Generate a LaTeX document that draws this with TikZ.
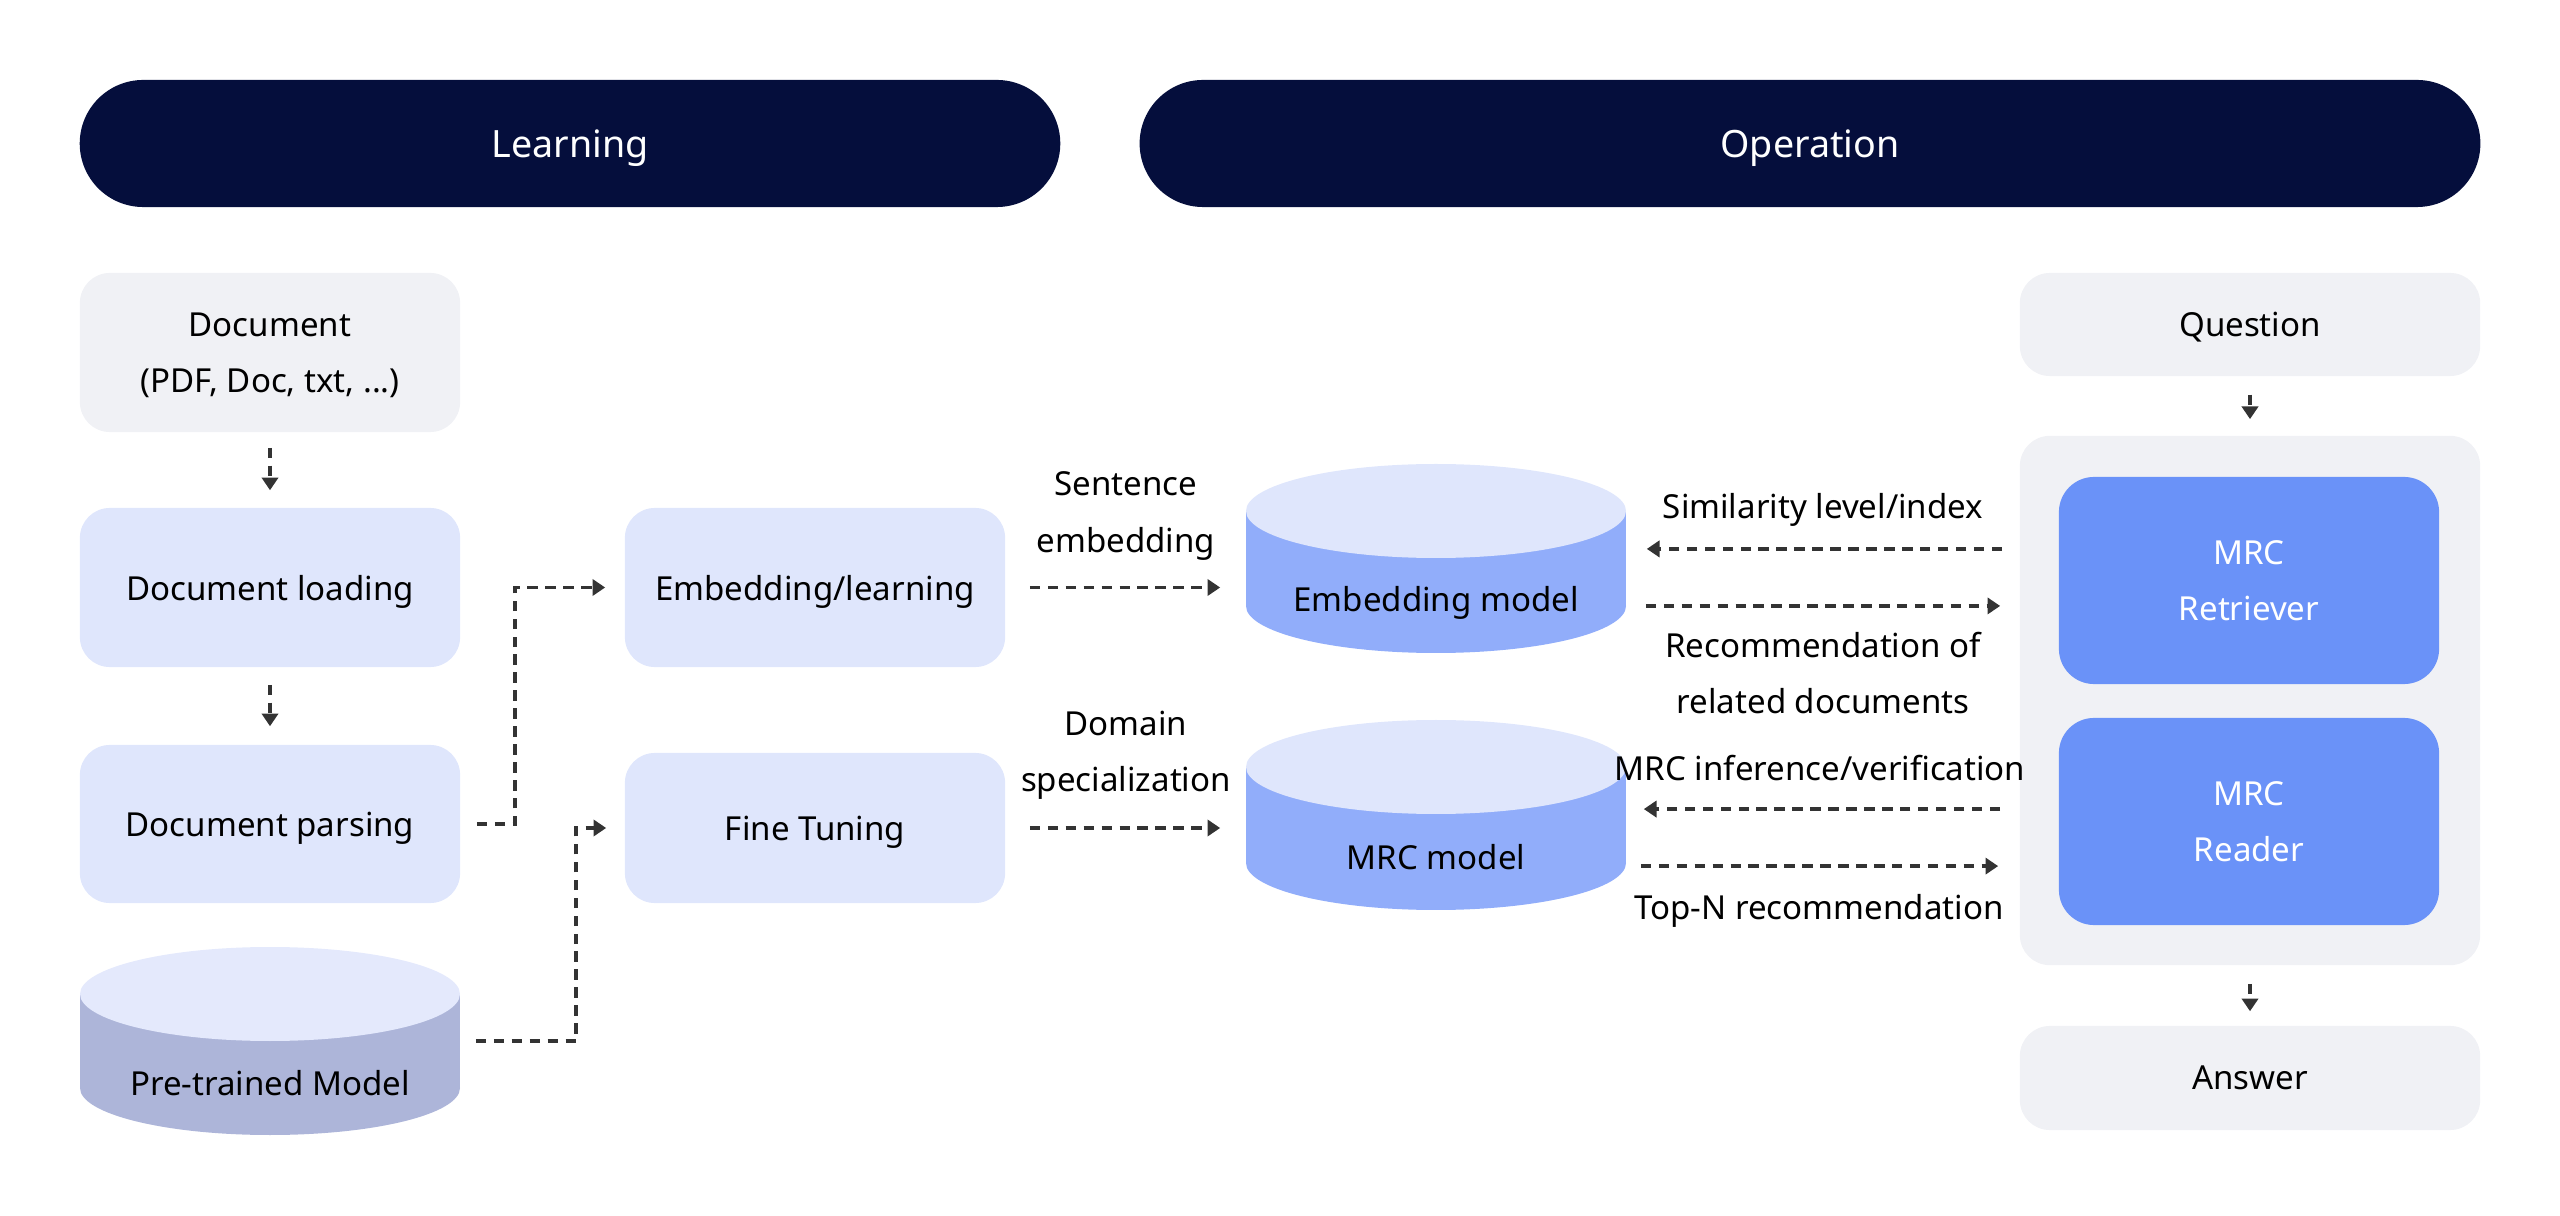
\documentclass[tikz,border=0pt]{standalone}
\usepackage{fontspec}
\setmainfont{Noto Sans}
\usetikzlibrary{arrows.meta,shapes.misc,calc}
\definecolor{navy}{HTML}{050E3C}
\definecolor{graybox}{HTML}{F0F1F5}
\definecolor{lblue}{HTML}{DFE6FC}
\definecolor{mblue}{HTML}{6A92F8}
\definecolor{cylside}{HTML}{91ADFA}
\definecolor{cyltop}{HTML}{DFE6FC}
\definecolor{preside}{HTML}{ADB5D9}
\definecolor{pretop}{HTML}{E4E9FC}
\definecolor{arrcol}{HTML}{333333}
\newcommand{\fs}{\fontsize{9.4pt}{16pt}\selectfont}
\tikzset{
  box/.style={rounded corners=8.5pt, inner sep=0pt, align=center, font=\fs, minimum width=3.8cm, text depth=0pt},
  graybx/.style={box, fill=graybox},
  bluebx/.style={box, fill=lblue},
  mrcbx/.style={box, fill=mblue, text=white, rounded corners=10pt},
  header/.style={rounded rectangle, fill=navy, text=white, inner sep=0pt, minimum height=1.27cm, text depth=0pt, font=\fontsize{10.7pt}{13pt}\selectfont},
  frame/.style={inner sep=0pt, minimum width=3.8cm},
  lbl/.style={align=center, font=\fs, inner sep=0pt},
  arr/.style={draw=arrcol, line width=1.1pt, dash pattern=on 3pt off 2.1pt, -{Triangle[length=3.6pt,width=4.6pt]}},
}
\begin{document}
\begin{tikzpicture}[x=0.01cm,y=-0.01cm]
\useasboundingbox (0,0) rectangle (2560,1216);

% headers
\node[header, minimum width=9.8cm] (learn) at (570,143.5) {Learning};
\node[header, minimum width=13.4cm] (oper) at (1810,143.5) {Operation};

% left column
\node[graybx, minimum height=1.59cm] (doc) at (270,352.5) {Document\\(PDF, Doc, txt, ...)};
\node[bluebx, minimum height=1.59cm] (load) at (270,587.5) {Document loading};
\node[bluebx, minimum height=1.58cm] (pars) at (270,824) {Document parsing};

% pre-trained cylinder
\fill[preside] (80,994) rectangle (460,1088);
\fill[preside] (270,1088) ellipse (190 and 47);
\fill[pretop] (270,994) ellipse (190 and 47);
\node[frame, minimum height=1.88cm] (pre) at (270,1041) {};
\node[lbl] (pret) at (270,1083) {Pre-trained Model};

% middle boxes
\node[bluebx, minimum height=1.59cm] (embl) at (815,587.5) {Embedding/learning};
\node[bluebx, minimum height=1.50cm] (fine) at (815,828) {Fine Tuning};

% embedding model cylinder
\fill[cylside] (1246,511) rectangle (1626,606);
\fill[cylside] (1436,606) ellipse (190 and 47);
\fill[cyltop] (1436,511) ellipse (190 and 47);
\node[frame, minimum height=1.89cm] (embm) at (1436,558.5) {};
\node[lbl] (embmt) at (1436,603) {Embedding model};

% MRC model cylinder
\fill[cylside] (1246,767) rectangle (1626,863);
\fill[cylside] (1436,863) ellipse (190 and 47);
\fill[cyltop] (1436,767) ellipse (190 and 47);
\node[frame, minimum height=1.90cm] (mrcm) at (1436,815) {};
\node[lbl] (mrcmt) at (1436,857) {MRC model};

% right column
\node[graybx, minimum width=4.6cm, minimum height=1.03cm] (ques) at (2250,324.5) {Question};
\node[graybx, minimum width=4.6cm, minimum height=5.29cm] (cont) at (2250,700.5) {};
\node[mrcbx, minimum height=2.07cm] (retr) at (2249,580.5) {MRC\\Retriever};
\node[mrcbx, minimum height=2.07cm] (read) at (2249,821.5) {MRC\\Reader};
\node[graybx, minimum width=4.6cm, minimum height=1.04cm] (ans) at (2250,1078) {Answer};

% labels
\node[lbl] (l1) at (1126,516) {Sentence\\embedding};
\node[lbl] (l2) at (1126,755) {Domain\\specialization};
\node[lbl] (l3) at (1823,510) {Similarity level/index};
\node[lbl] (l4) at (1823,673) {Recommendation of\\related documents};
\node[lbl] (l5) at (1820,768) {MRC inference/verification};
\node[lbl] (l6) at (1819,911) {Top-N recommendation};

% connectors
\draw[arr, shorten <=0.15cm, shorten >=0.17cm] (doc.south) -- (load.north);
\draw[arr, shorten <=0.17cm, shorten >=0.18cm] (load.south) -- (pars.north);
\draw[arr, shorten <=0.16cm, shorten >=0.19cm] (pars.east) -| ([xshift=-1.09cm]embl.west) -- (embl.west);
\draw[arr, shorten <=0.15cm, shorten >=0.18cm] (pre.east) -| ([xshift=-0.48cm]fine.west) -- (fine.west);
\draw[arr, shorten <=0.24cm, shorten >=0.25cm] (embl.east) -- (embl.east -| embm.west);
\draw[arr, shorten <=0.24cm, shorten >=0.25cm] (fine.east) -- (fine.east -| mrcm.west);
\draw[arr, shorten <=0.17cm, shorten >=0.2cm] ([yshift=1.515cm]cont.west) -- ([yshift=1.515cm]cont.west -| embm.east);
\draw[arr, shorten <=0.19cm, shorten >=0.19cm] ([yshift=0.945cm]cont.west -| embm.east) -- ([yshift=0.945cm]cont.west);
\draw[arr, shorten <=0.19cm, shorten >=0.17cm] ([yshift=-1.085cm]cont.west) -- ([yshift=-1.085cm]cont.west -| mrcm.east);
\draw[arr, shorten <=0.14cm, shorten >=0.21cm] ([yshift=-1.655cm]cont.west -| mrcm.east) -- ([yshift=-1.655cm]cont.west);
\draw[arr, shorten <=0.18cm, shorten >=0.16cm] (ques.south) -- (cont.north);
\draw[arr, shorten <=0.18cm, shorten >=0.14cm] (cont.south) -- (ans.north);
\end{tikzpicture}
\end{document}
